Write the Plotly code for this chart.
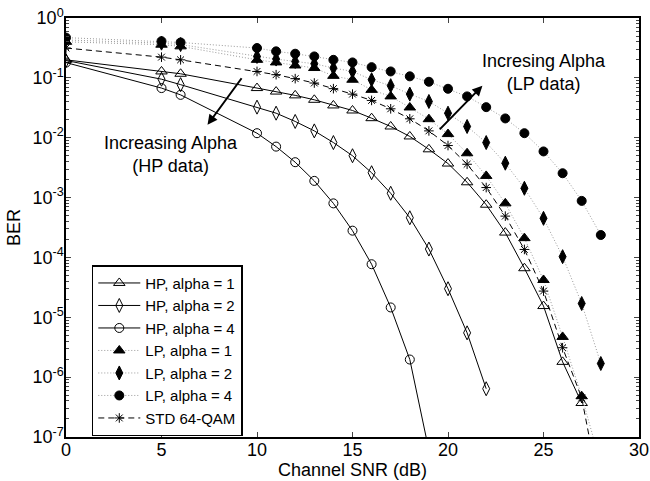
import plotly.graph_objects as go

snr_hp1 = [0, 5, 6, 10, 11, 12, 13, 14, 15, 16, 17, 18, 19, 20, 21, 22, 23, 24, 25, 26, 27]
ber_hp1 = [0.2, 0.128, 0.117, 0.0675, 0.059, 0.051, 0.043, 0.0346, 0.0285, 0.0212, 0.0154,
           0.0105, 0.0064, 0.0037, 0.0018, 7.6e-4, 2.6e-4, 6.6e-5, 1.54e-5, 1.8e-6, 3.7e-7]

snr_hp2 = [0, 5, 6, 10, 11, 12, 13, 14, 15, 16, 17, 18, 19, 20, 21, 22]
ber_hp2 = [0.195, 0.095, 0.077, 0.0324, 0.0257, 0.0187, 0.013, 0.0083, 0.005, 0.0026,
           0.00118, 4.6e-4, 1.38e-4, 3.0e-5, 5.5e-6, 6.4e-7]

snr_hp4 = [0, 5, 6, 10, 11, 12, 13, 14, 15, 16, 17, 18, 19]
ber_hp4 = [0.18, 0.0675, 0.052, 0.0119, 0.0071, 0.0039, 0.0019, 8.0e-4, 2.8e-4, 7.7e-5,
           1.46e-5, 1.97e-6, 6e-8]

snr_lp1 = [0, 5, 6, 10, 11, 12, 13, 14, 15, 16, 17, 18, 19, 20, 21, 22, 23, 24, 25, 26, 27, 28]
ber_lp1 = [0.4, 0.358, 0.336, 0.2, 0.181, 0.161, 0.146, 0.108, 0.093, 0.063, 0.049, 0.032,
           0.0204, 0.0115, 0.0055, 0.0023, 8.0e-4, 2.1e-4, 4.2e-5, 4.7e-6, 4.8e-7, 3.5e-8]

snr_lp2 = [0, 5, 6, 10, 11, 12, 13, 14, 15, 16, 17, 18, 19, 20, 21, 22, 23, 24, 25, 26, 27, 28]
ber_lp2 = [0.43, 0.38, 0.36, 0.228, 0.206, 0.188, 0.172, 0.146, 0.128, 0.093, 0.074, 0.0535,
           0.0403, 0.0257, 0.0154, 0.0083, 0.00375, 0.00143, 4.5e-4, 1.03e-4, 1.7e-5, 1.69e-6]

snr_lp4 = [0, 5, 6, 10, 11, 12, 13, 14, 15, 16, 17, 18, 19, 20, 21, 22, 23, 24, 25, 26, 27, 28]
ber_lp4 = [0.47, 0.41, 0.39, 0.315, 0.277, 0.253, 0.228, 0.2, 0.181, 0.151, 0.128, 0.106,
           0.086, 0.0657, 0.049, 0.0324, 0.021, 0.0119, 0.0059, 0.00255, 8.8e-4, 2.37e-4]

snr_std = [0, 5, 6, 10, 11, 12, 13, 14, 15, 16, 17, 18, 19, 20, 21, 22, 23, 24, 25, 26, 27, 28]
ber_std = [0.315, 0.222, 0.2, 0.128, 0.113, 0.097, 0.082, 0.066, 0.0535, 0.042, 0.0304, 0.0207,
           0.013, 0.0074, 0.0036, 0.00147, 4.9e-4, 1.36e-4, 2.74e-5, 3.1e-6, 4.5e-7, 1e-8]

y_tickvals = [1e-7, 1e-6, 1e-5, 1e-4, 1e-3, 1e-2, 1e-1, 1]
y_ticktext = ["10<sup>-7</sup>", "10<sup>-6</sup>", "10<sup>-5</sup>", "10<sup>-4</sup>",
              "10<sup>-3</sup>", "10<sup>-2</sup>", "10<sup>-1</sup>", "10<sup>0</sup>"]
x_tickvals = [0, 5, 10, 15, 20, 25, 30]

FONT = "Liberation Sans, Arial, sans-serif"

fig = go.Figure()

def add(x, y, name, symbol, dash, color, width=1, size=9):
    fig.add_trace(go.Scatter(
        x=x, y=y, name=name, mode="lines+markers",
        line=dict(color=color, width=width, dash=dash),
        marker=dict(symbol=symbol, size=size, color="black",
                    line=dict(color="black", width=1)),
    ))

add(snr_hp1, ber_hp1, "HP, alpha = 1", "triangle-up-open", "solid", "black", size=10)
add(snr_hp2, ber_hp2, "HP, alpha = 2", "diamond-tall-open", "solid", "black", size=10)
add(snr_hp4, ber_hp4, "HP, alpha = 4", "circle-open", "solid", "black", size=9)
add(snr_lp1, ber_lp1, "LP, alpha = 1", "triangle-up", "1px,2px", "#9a9a9a", size=10)
add(snr_lp2, ber_lp2, "LP, alpha = 2", "diamond-tall", "1px,2px", "#9a9a9a", size=10)
add(snr_lp4, ber_lp4, "LP, alpha = 4", "circle", "1px,2px", "#9a9a9a", size=9)
add(snr_std, ber_std, "STD 64-QAM", "asterisk-open", "6px,4px", "black", size=8)

minor_vals = [k * 10.0 ** e for e in range(-7, 0) for k in range(2, 10)]

fig.update_xaxes(
    range=[0, 30], tickvals=x_tickvals, ticks="inside", ticklen=5, tickwidth=1,
    showline=True, linecolor="black", linewidth=1.5, mirror="ticks", showgrid=False,
    zeroline=False, automargin=True, ticklabelstandoff=-4,
    tickfont=dict(size=18, color="black", family=FONT),
    title=dict(text="Channel SNR (dB)", font=dict(size=18, color="black", family=FONT), standoff=2),
)
fig.update_yaxes(
    type="log", range=[-7, 0], tickvals=y_tickvals, ticktext=y_ticktext,
    ticks="inside", ticklen=5, tickwidth=1, ticklabelstandoff=-3,
    minor=dict(tickvals=minor_vals, ticks="inside", ticklen=3, tickwidth=1, showgrid=False),
    showline=True, linecolor="black", linewidth=1.5, mirror="ticks", showgrid=False,
    zeroline=False, automargin=True,
    tickfont=dict(size=18, color="black", family=FONT),
    title=dict(text="BER", font=dict(size=18, color="black", family=FONT), standoff=7),
)

fig.add_annotation(x=5.5, y=-2.28, xref="x", yref="y", text="Increasing Alpha<br>(HP data)",
                   showarrow=False, font=dict(size=18, color="black", family=FONT), align="center")
fig.add_annotation(x=25.0, y=-0.915, xref="x", yref="y", text="Incresing Alpha<br>(LP data)",
                   showarrow=False, font=dict(size=18, color="black", family=FONT), align="center")
fig.add_annotation(x=7.41, y=-1.785, ax=9.25, ay=-0.982, xref="x", yref="y", axref="x", ayref="y",
                   text="", showarrow=True, arrowhead=2, arrowsize=1, arrowwidth=2, arrowcolor="black")
fig.add_annotation(x=21.8, y=-1.132, ax=19.49, ay=-1.885, xref="x", yref="y", axref="x", ayref="y",
                   text="", showarrow=True, arrowhead=2, arrowsize=1, arrowwidth=2, arrowcolor="black")

fig.update_layout(
    width=650, height=481,
    margin=dict(l=66, r=11, t=18, b=44, autoexpand=False),
    paper_bgcolor="white", plot_bgcolor="white",
    font=dict(family=FONT, color="black", size=18),
    showlegend=True,
    legend=dict(x=0.045, y=0.41, xanchor="left", yanchor="top",
                bgcolor="white", bordercolor="black", borderwidth=1.5,
                font=dict(size=15, color="black", family=FONT),
                itemwidth=42, tracegroupgap=0),
)

fig.write_html("out.html", config={"displayModeBar": False},
               post_script="document.body.style.margin='0';")
